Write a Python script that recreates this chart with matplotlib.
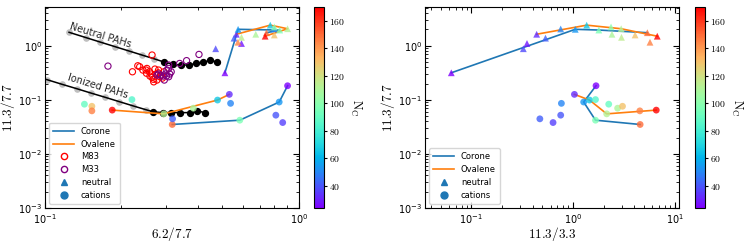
import numpy as np
import matplotlib
matplotlib.use('Agg')
import matplotlib.pyplot as plt
from matplotlib.lines import Line2D
from matplotlib.colors import Normalize
from matplotlib.ticker import FuncFormatter, LogLocator, NullFormatter

plt.rcParams['mathtext.fontset'] = 'cm'

# neutral PAHs: number of C atoms, 6.2/7.7, 11.3/3.3, 11.3/7.7
neu_nc = [24, 38, 28, 32, 42, 50, 54, 66, 96, 100, 110, 112, 115, 130, 150, 145, 170]
neu_62 = [0.511, 0.470, 0.594, 0.567, 0.555, 0.80, 0.576, 0.771, 0.84, 0.80, 0.676,
          0.902, 0.594, 0.80, 0.745, 0.575, 0.736]
neu_33 = [0.0634, 0.324, 0.352, 0.438, 0.535, 0.755, 1.05, 1.36, 1.79, 2.36, 2.41,
          2.97, 2.99, 4.07, 5.37, 5.70, 6.72]
neu_113 = [0.316, 0.88, 1.10, 1.63, 1.38, 2.04, 2.01, 2.40, 1.95, 2.22, 1.63,
           2.06, 1.43, 1.58, 1.74, 1.16, 1.50]

# cations
cat_nc = [24, 32, 54, 66, 85, 90, 110, 130, 112, 96, 145, 170, 150, 50, 40, 36, 42]
cat_62 = [0.902, 0.532, 0.836, 0.478, 0.220, 0.143, 0.384, 0.153, 0.294, 0.585,
          0.153, 0.184, 0.317, 0.538, 0.811, 0.863, 0.318]
cat_33 = [1.68, 1.03, 1.27, 1.45, 1.66, 2.24, 2.74, 3.06, 2.14, 1.66, 4.53, 6.57,
          4.56, 0.767, 0.755, 0.635, 0.471]
cat_113 = [0.182, 0.126, 0.091, 0.099, 0.101, 0.083, 0.070, 0.076, 0.055, 0.042,
           0.0625, 0.0645, 0.035, 0.086, 0.052, 0.038, 0.0445]

# members of the two families (indices into the lists above)
corone_neu = [0, 6, 8, 14]
ovalene_neu = [3, 7, 11, 16]
corone_cat = [0, 2, 9, 12]
ovalene_cat = [1, 3, 8, 11]

# M83 / M33 observations
m83_x = [0.264, 0.221, 0.232, 0.236, 0.243, 0.250, 0.252, 0.258, 0.262, 0.264, 0.259,
         0.267, 0.268, 0.274, 0.279, 0.283, 0.287, 0.276, 0.294, 0.280, 0.271, 0.290, 0.251]
m83_y = [0.673, 0.330, 0.426, 0.409, 0.355, 0.355, 0.380, 0.330, 0.300, 0.260, 0.275,
         0.240, 0.215, 0.300, 0.316, 0.267, 0.283, 0.232, 0.330, 0.355, 0.370, 0.252, 0.310]
m33_x = [0.177, 0.404, 0.361, 0.339, 0.307, 0.302, 0.307, 0.285, 0.292, 0.298, 0.301,
         0.310, 0.314, 0.295, 0.276, 0.307, 0.280]
m33_y = [0.42, 0.69, 0.53, 0.47, 0.44, 0.355, 0.38, 0.286, 0.275, 0.30, 0.275,
         0.30, 0.33, 0.232, 0.286, 0.267, 0.30]

# neutral / ionized PAH tracks (grey part + black part)
neutral_grey_x = [0.1244, 0.1452, 0.1649, 0.1891, 0.2133, 0.2409, 0.2679]
neutral_grey_y = [1.77, 1.41, 1.17, 0.958, 0.804, 0.673, 0.577]
neutral_black_x = [0.294, 0.319, 0.342, 0.370, 0.392, 0.420, 0.447, 0.475]
neutral_black_y = [0.50, 0.455, 0.44, 0.44, 0.47, 0.49, 0.54, 0.50]
ionized_grey_x = [0.1016, 0.1167, 0.1338, 0.152, 0.1727, 0.196, 0.2228, 0.2506]
ionized_grey_y = [0.2366, 0.1936, 0.1599, 0.133, 0.1112, 0.0926, 0.077, 0.0653]
ionized_black_x = [0.267, 0.291, 0.314, 0.340, 0.374, 0.398, 0.425]
ionized_black_y = [0.060, 0.058, 0.058, 0.058, 0.058, 0.0625, 0.058]

cmap = plt.get_cmap('rainbow')
norm = Normalize(vmin=24, vmax=170)

fig = plt.figure(figsize=(7.47, 2.42), dpi=100)
ax1 = fig.add_axes([0.0602, 0.1405, 0.340, 0.8306])
cax1 = fig.add_axes([0.4203, 0.1405, 0.0134, 0.8306])
ax2 = fig.add_axes([0.569, 0.1405, 0.340, 0.8306])
cax2 = fig.add_axes([0.9304, 0.1405, 0.0134, 0.8306])


def pick(vals, idx):
    return [vals[i] for i in idx]


def draw_models(ax, nx, cx):
    ax.plot(pick(nx, corone_neu), pick(neu_113, corone_neu), color='C0', lw=1.2, zorder=3)
    ax.plot(pick(nx, ovalene_neu), pick(neu_113, ovalene_neu), color='C1', lw=1.2, zorder=3)
    ax.plot(pick(cx, corone_cat), pick(cat_113, corone_cat), color='C0', lw=1.2, zorder=3)
    ax.plot(pick(cx, ovalene_cat), pick(cat_113, ovalene_cat), color='C1', lw=1.2, zorder=3)
    ax.scatter(nx, neu_113, c=neu_nc, cmap=cmap, norm=norm, marker='^', s=24,
               alpha=0.8, linewidths=0, zorder=4)
    ax.scatter(cx, cat_113, c=cat_nc, cmap=cmap, norm=norm, marker='o', s=24,
               alpha=0.8, linewidths=0, zorder=4)


def style_axis(ax):
    ax.set_xscale('log')
    ax.set_yscale('log')
    ax.set_ylim(1e-3, 5.2)
    ax.tick_params(which='both', direction='in', top=True, right=True, labelsize=7, pad=2)
    ax.tick_params(axis='x', which='major', pad=3)
    ax.tick_params(which='major', length=4)
    ax.tick_params(which='minor', length=2)
    ax.yaxis.set_minor_locator(LogLocator(base=10, subs=np.arange(2, 10), numticks=20))
    ax.yaxis.set_minor_formatter(NullFormatter())
    ax.xaxis.set_minor_formatter(NullFormatter())
    ax.set_ylabel(r'$11.3/7.7$', fontsize=9.5, labelpad=1)


def add_cbar(cax):
    sm = plt.cm.ScalarMappable(norm=norm, cmap=cmap)
    cb = fig.colorbar(sm, cax=cax)
    cb.set_ticks([40, 60, 80, 100, 120, 140, 160])
    cb.ax.yaxis.set_major_formatter(FuncFormatter(lambda v, p: r'$%d$' % v))
    cb.ax.tick_params(labelsize=7, length=2, pad=1.5)
    cb.set_label(r'$\mathrm{N_C}$', rotation=270, fontsize=9, labelpad=13)


# left panel
ax1.plot(neutral_grey_x + neutral_black_x, neutral_grey_y + neutral_black_y,
         color='black', lw=1.1, zorder=2)
ax1.plot(ionized_grey_x + ionized_black_x, ionized_grey_y + ionized_black_y,
         color='black', lw=1.1, zorder=2)
ax1.scatter(neutral_grey_x, neutral_grey_y, color='0.75', s=14, zorder=1)
ax1.scatter(ionized_grey_x, ionized_grey_y, color='0.75', s=14, zorder=1)
ax1.scatter(neutral_black_x, neutral_black_y, color='black', s=18, zorder=2)
ax1.scatter(ionized_black_x, ionized_black_y, color='black', s=18, zorder=2)
ax1.scatter(m83_x, m83_y, facecolors='none', edgecolors='red', s=20, lw=0.8, zorder=2)
ax1.scatter(m33_x, m33_y, facecolors='none', edgecolors='purple', s=20, lw=0.8, zorder=2)
draw_models(ax1, neu_62, cat_62)
ax1.text(0.1235, 1.85, 'Neutral PAHs', rotation=-17, rotation_mode='anchor',
         ha='left', va='bottom', fontsize=7, color='0.15')
ax1.text(0.121, 0.215, 'Ionized PAHs', rotation=-17, rotation_mode='anchor',
         ha='left', va='bottom', fontsize=7, color='0.15')
style_axis(ax1)
ax1.set_xlim(0.1, 1.0)
ax1.set_xlabel(r'$6.2/7.7$', fontsize=9.5, labelpad=-1)
handles1 = [Line2D([], [], color='C0', lw=1.2, label='Corone'),
            Line2D([], [], color='C1', lw=1.2, label='Ovalene'),
            Line2D([], [], ls='none', marker='o', mfc='none', mec='red', ms=4.5, label='M83'),
            Line2D([], [], ls='none', marker='o', mfc='none', mec='purple', ms=4.5, label='M33'),
            Line2D([], [], ls='none', marker='^', color='C0', ms=5, label='neutral'),
            Line2D([], [], ls='none', marker='o', color='C0', ms=5, label='cations')]
ax1.legend(handles=handles1, loc='lower left', fontsize=6, handlelength=2.5,
           labelspacing=0.45, borderpad=0.5)
add_cbar(cax1)

# right panel
draw_models(ax2, neu_33, cat_33)
style_axis(ax2)
ax2.set_xlim(0.035, 11)
ax2.set_xlabel(r'$11.3/3.3$', fontsize=9.5, labelpad=-1)
handles2 = [handles1[0], handles1[1], handles1[4], handles1[5]]
ax2.legend(handles=handles2, loc='lower left', fontsize=6, handlelength=2.5,
           labelspacing=0.45, borderpad=0.5)
add_cbar(cax2)

fig.savefig('out.png', dpi=100)
